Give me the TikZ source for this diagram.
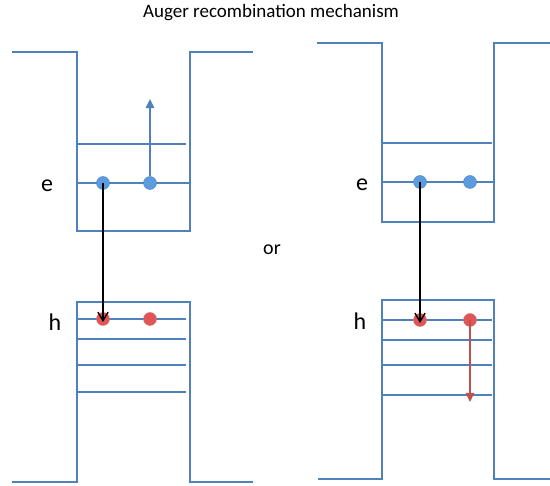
\documentclass[tikz,border=0pt]{standalone}
\usepackage{fontspec}
\setmainfont{Carlito}
\usetikzlibrary{arrows.meta,positioning}
\definecolor{bandblue}{HTML}{4F81BD}
\definecolor{elecblue}{HTML}{5B9BE0}
\definecolor{holered}{HTML}{E05555}
\definecolor{arrowred}{HTML}{C0504D}
\tikzset{
  band/.style={draw=bandblue, line width=1.6pt},
  electron/.style={circle, draw=bandblue, fill=elecblue, inner sep=0pt,
                   minimum size=13pt},
  hole/.style={circle, draw=arrowred!80, fill=holered, inner sep=0pt,
               minimum size=13pt},
  label/.style={font=\fontsize{24}{28}\selectfont},
  flow/.style={-{Straight Barb[length=3mm,width=3.6mm]}, line width=1.4pt},
  kick/.style={-{Triangle[length=3.2mm,width=3mm]}, line width=1.3pt},
}
\begin{document}
\begin{tikzpicture}[x=1pt, y=-1pt]
\useasboundingbox (0,0) rectangle (550,486);
\node[font=\fontsize{19}{22}\selectfont] (title) at (271,13)
  {Auger recombination mechanism};

\draw[band] (12,52) -- (77,52) -- (77,231) -- (190,231) -- (190,52) -- (253,52);
\draw[band] (77,144) -- (186,144);
\draw[band] (77,183) -- (190,183);
\draw[band] (12,482) -- (77,482) -- (77,302) -- (190,302) -- (190,482) -- (253,482);
\foreach \y in {319,339,365,392}
  \draw[band] (77,\y) -- (186,\y);

\draw[band] (317,43) -- (382,43) -- (382,222) -- (494,222) -- (494,43) -- (550,43);
\draw[band] (382,143) -- (492,143);
\draw[band] (382,182) -- (494,182);
\draw[band] (318,479) -- (382,479) -- (382,300) -- (494,300) -- (494,479) -- (550,479);
\foreach \y in {320,340,365,395}
  \draw[band] (382,\y) -- (492,\y);

\node[label] (eL) at (47,186) {e};
\node[label] (hL) at (55,322) {h};
\node[label] (eR) at (362,185) {e};
\node[label] (hR) at (360,321) {h};
\node[label, font=\fontsize{20}{24}\selectfont] (or) at (272,250) {or};

\node[electron] (e1L) at (103,183) {};
\node[electron] (e2L) at (150,183) {};
\node[hole] (h1L) at (103,319) {};
\node[hole] (h2L) at (150,319) {};
\coordinate (kickup) at (150,99);

\node[electron] (e1R) at (420,182) {};
\node[electron] (e2R) at (470,182) {};
\node[hole] (h1R) at (420,320) {};
\node[hole] (h2R) at (470,320) {};
\coordinate (kickdown) at (470,402);

\draw[flow] (e1L.center) -- ([yshift=-3pt]h1L.center);
\draw[kick, draw=bandblue, fill=bandblue] (e2L) -- (kickup);
\draw[flow] (e1R.center) -- ([yshift=-3pt]h1R.center);
\draw[kick, draw=arrowred, fill=arrowred] (h2R.center) -- (kickdown);
\end{tikzpicture}
\end{document}
